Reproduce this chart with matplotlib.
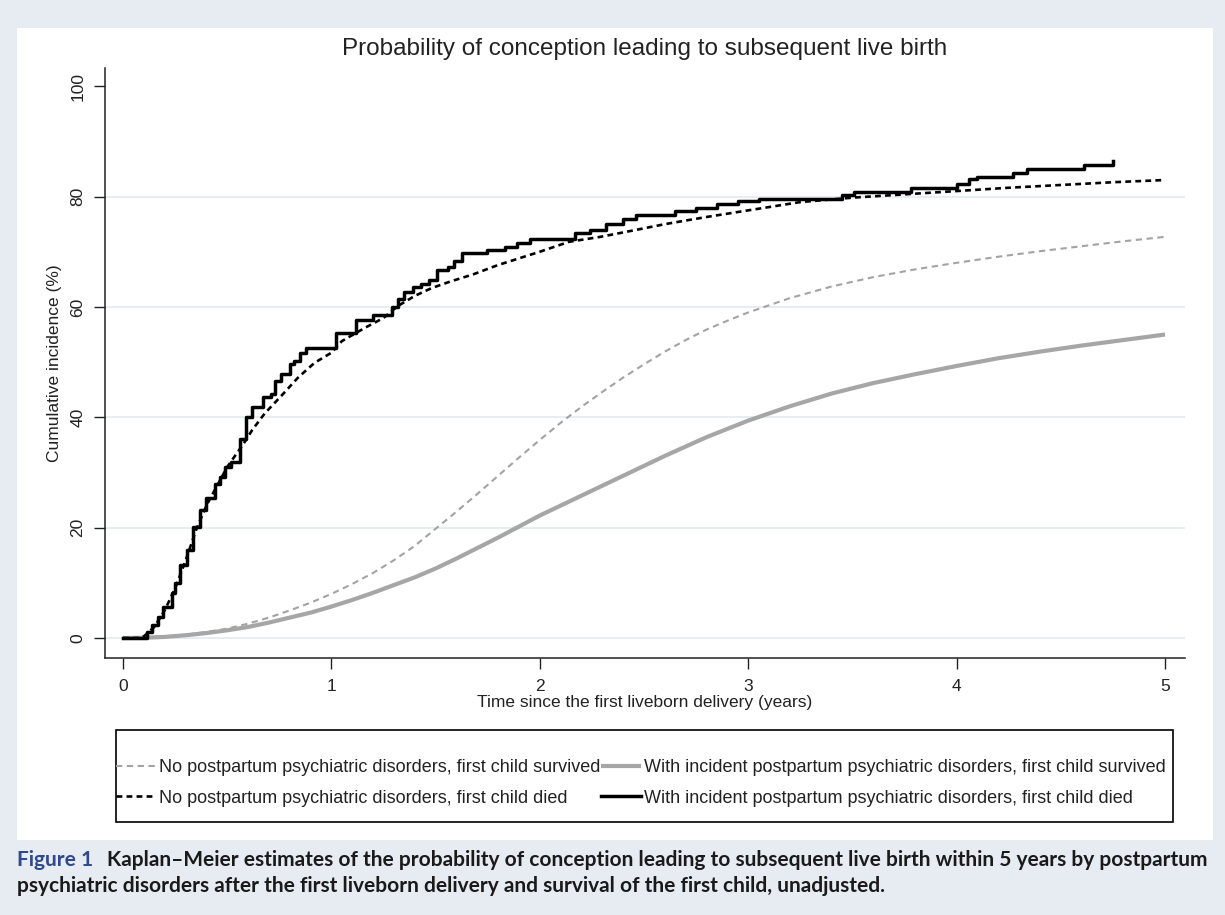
import matplotlib
matplotlib.use("Agg")
import matplotlib.pyplot as plt
from matplotlib.patches import Rectangle

plt.rcParams["font.family"] = ["Liberation Sans", "DejaVu Sans"]

# ── Dados ─────────────────────────────────────────────────────────────────────
# Sem transtorno pós-parto, primeiro filho sobreviveu (cinza tracejado)
t_nopp_surv = [0, 0.1, 0.2, 0.3, 0.4, 0.5, 0.6, 0.7, 0.8, 0.9, 1.0, 1.1, 1.2,
               1.3, 1.4, 1.5, 1.6, 1.7, 1.8, 1.9, 2.0, 2.1, 2.2, 2.3, 2.4, 2.5,
               2.6, 2.7, 2.8, 2.9, 3.0, 3.2, 3.4, 3.6, 3.8, 4.0, 4.2, 4.4, 4.6,
               4.8, 5.0]
y_nopp_surv = [0, 0.1, 0.3, 0.6, 1.1, 1.7, 2.6, 3.7, 5.0, 6.4, 8.0, 9.8, 11.8,
               14.1, 16.7, 19.8, 22.9, 26.1, 29.4, 32.7, 35.9, 39.0, 41.9, 44.6,
               47.2, 49.6, 51.9, 54.0, 55.9, 57.5, 59.0, 61.6, 63.7, 65.4, 66.8,
               68.0, 69.1, 70.1, 71.0, 71.9, 72.7]

# Com transtorno pós-parto, primeiro filho sobreviveu (cinza contínuo)
t_pp_surv = [0, 0.1, 0.2, 0.3, 0.4, 0.5, 0.6, 0.7, 0.8, 0.9, 1.0, 1.1, 1.2,
             1.3, 1.4, 1.5, 1.6, 1.7, 1.8, 1.9, 2.0, 2.2, 2.4, 2.6, 2.8, 3.0,
             3.2, 3.4, 3.6, 3.8, 4.0, 4.2, 4.4, 4.6, 4.8, 5.0]
y_pp_surv = [0, 0.05, 0.2, 0.5, 0.9, 1.4, 2.0, 2.8, 3.7, 4.6, 5.7, 6.9, 8.2,
             9.6, 11.0, 12.6, 14.4, 16.3, 18.2, 20.2, 22.2, 25.8, 29.4, 33.0,
             36.4, 39.4, 42.0, 44.3, 46.2, 47.8, 49.3, 50.7, 51.9, 53.0, 54.0,
             55.0]

# Sem transtorno pós-parto, primeiro filho morreu (preto tracejado)
t_nopp_died = [0, 0.08, 0.1, 0.15, 0.2, 0.25, 0.3, 0.35, 0.4, 0.45, 0.5,
               0.58, 0.62, 0.68, 0.76, 0.84, 0.92, 1.0, 1.05, 1.16, 1.25, 1.32,
               1.4, 1.48, 1.57, 1.68, 1.8, 1.9, 2.0, 2.14, 2.29, 2.4, 2.6, 2.8,
               3.0, 3.25, 3.5, 3.75, 4.0, 4.25, 4.5, 4.75, 5.0]
y_nopp_died = [0, 0, 0.3, 2.0, 5.0, 9.0, 14.0, 19.5, 24.0, 27.5, 31.0,
               35.3, 37.7, 40.7, 43.9, 47.2, 49.9, 51.7, 53.8, 56.2, 58.0, 60.2,
               62.0, 63.4, 64.6, 65.9, 67.6, 68.8, 70.0, 71.8, 72.7, 73.5, 75.0,
               76.3, 77.5, 79.0, 79.8, 80.4, 81.0, 81.6, 82.1, 82.6, 83.0]

# Com transtorno pós-parto, primeiro filho morreu (preto contínuo, degraus)
t_pp_died = [0, 0.09, 0.114, 0.138, 0.17, 0.193, 0.234, 0.25, 0.274, 0.306,
             0.337, 0.369, 0.40, 0.44, 0.465, 0.49, 0.52, 0.56, 0.59, 0.62,
             0.67, 0.71, 0.73, 0.76, 0.80, 0.82, 0.85, 0.88, 1.02, 1.12, 1.20,
             1.29, 1.32, 1.35, 1.39, 1.43, 1.47, 1.505, 1.56, 1.59, 1.625,
             1.745, 1.833, 1.89, 1.953, 2.17, 2.24, 2.32, 2.40, 2.46, 2.65,
             2.75, 2.85, 2.95, 3.05, 3.45, 3.51, 3.78, 4.0, 4.06, 4.1, 4.27,
             4.34, 4.61, 4.75]
y_pp_died = [0, 0, 1.1, 2.4, 3.9, 5.7, 8.1, 9.9, 13.2, 15.9,
             20.2, 23.2, 25.3, 28.0, 29.2, 31.0, 31.9, 36.0, 40.0, 41.8,
             43.6, 44.2, 46.6, 47.8, 49.6, 50.2, 51.7, 52.6, 55.3, 57.6, 58.5,
             60.0, 61.5, 62.7, 63.6, 64.2, 64.8, 66.7, 67.2, 68.4, 69.7,
             70.4, 70.9, 71.6, 72.3, 73.4, 74.0, 75.0, 76.0, 76.6, 77.3,
             78.0, 78.6, 79.2, 79.6, 80.3, 80.8, 81.5, 82.2, 83.2, 83.6, 84.3,
             85.0, 85.7, 86.4]

x_ticks = [0, 1, 2, 3, 4, 5]
y_ticks = [0, 20, 40, 60, 80, 100]
grid_vals = [0, 20, 40, 60, 80]

rotulos = [
    "No postpartum psychiatric disorders, first child survived",
    "With incident postpartum psychiatric disorders, first child survived",
    "No postpartum psychiatric disorders, first child died",
    "With incident postpartum psychiatric disorders, first child died",
]

# ── Figura ────────────────────────────────────────────────────────────────────
W, H = 1225, 915
fig = plt.figure(figsize=(W / 100, H / 100), dpi=100, facecolor="#e7ecf3")

# painel branco (atrás de tudo)
fig.patches.append(Rectangle((17 / W, 1 - 840 / H), (1213 - 17) / W, (840 - 28) / H,
                             transform=fig.transFigure, facecolor="white",
                             edgecolor="none", zorder=-10))

ax = fig.add_axes([105 / W, 1 - 658 / H, (1185 - 105) / W, (658 - 68) / H])
ax.set_facecolor("none")

for g in grid_vals:
    ax.axhline(g, color="#e3ebee", lw=1.2, zorder=0)

l1, = ax.plot(t_nopp_surv, y_nopp_surv, color="#a3a3a3", lw=1.5,
              linestyle=(0, (3, 2.2)), label=rotulos[0])
l2, = ax.plot(t_pp_surv, y_pp_surv, color="#a6a6a6", lw=3.0,
              solid_capstyle="butt", label=rotulos[1])
l3, = ax.plot(t_nopp_died, y_nopp_died, color="black", lw=1.9,
              linestyle=(0, (2.2, 1.6)), label=rotulos[2])
l4, = ax.plot(t_pp_died, y_pp_died, color="black", lw=2.5,
              drawstyle="steps-post", label=rotulos[3])

ax.set_xlim(-0.0864, 5.096)
ax.set_ylim(-3.62, 103.3)
ax.set_xticks(x_ticks)
ax.set_yticks(y_ticks)
ax.set_yticklabels([str(v) for v in y_ticks], rotation=90, va="center")

for s in ["top", "right"]:
    ax.spines[s].set_visible(False)
for s in ["left", "bottom"]:
    ax.spines[s].set_linewidth(1.1)
    ax.spines[s].set_color("#222222")

ax.tick_params(direction="out", length=8, width=1.0, color="#222222",
               labelsize=12.5, labelcolor="#222222")
ax.tick_params(axis="x", pad=7)
ax.tick_params(axis="y", pad=6)

ax.set_xlabel("Time since the first liveborn delivery (years)", fontsize=12.5,
              labelpad=1, color="#222222")
ax.set_ylabel("Cumulative incidence (%)", fontsize=12.5, labelpad=6,
              color="#222222")

fig.text(645 / W, 1 - 49 / H, "Probability of conception leading to subsequent live birth",
         ha="center", va="center", fontsize=17.5, color="#222222")

# caixa da legenda
fig.patches.append(Rectangle((116 / W, 1 - 822 / H), (1173 - 116) / W, (822 - 730) / H,
                             transform=fig.transFigure, facecolor="white",
                             edgecolor="black", lw=1.2, zorder=1))

fig.legend(handles=[l1, l3, l2, l4], ncol=2, loc="center",
           bbox_to_anchor=(641 / W, 1 - 783 / H), frameon=False,
           fontsize=13, handlelength=2.2, handletextpad=0.2,
           columnspacing=0.0, labelspacing=0.75, labelcolor="#222222")

# legenda da figura (caption)
t1 = fig.text(17 / W, 1 - 860 / H, "Figure 1", ha="left", va="center",
              fontsize=15, fontweight="bold", color="#2e4a8c", family="Lato")
ax.annotate("Kaplan–Meier estimates of the probability of conception leading to "
            "subsequent live birth within 5 years by postpartum",
            xy=(1, 0.5), xycoords=t1, xytext=(10, 0), textcoords="offset points",
            ha="left", va="center", fontsize=15, fontweight="bold",
            color="#1a1a1a", family="Lato", annotation_clip=False)
fig.text(17 / W, 1 - 886 / H,
         "psychiatric disorders after the first liveborn delivery and survival "
         "of the first child, unadjusted.",
         ha="left", va="center", fontsize=15, fontweight="bold",
         color="#1a1a1a", family="Lato")

fig.savefig("out.png", dpi=100, facecolor=fig.get_facecolor())
